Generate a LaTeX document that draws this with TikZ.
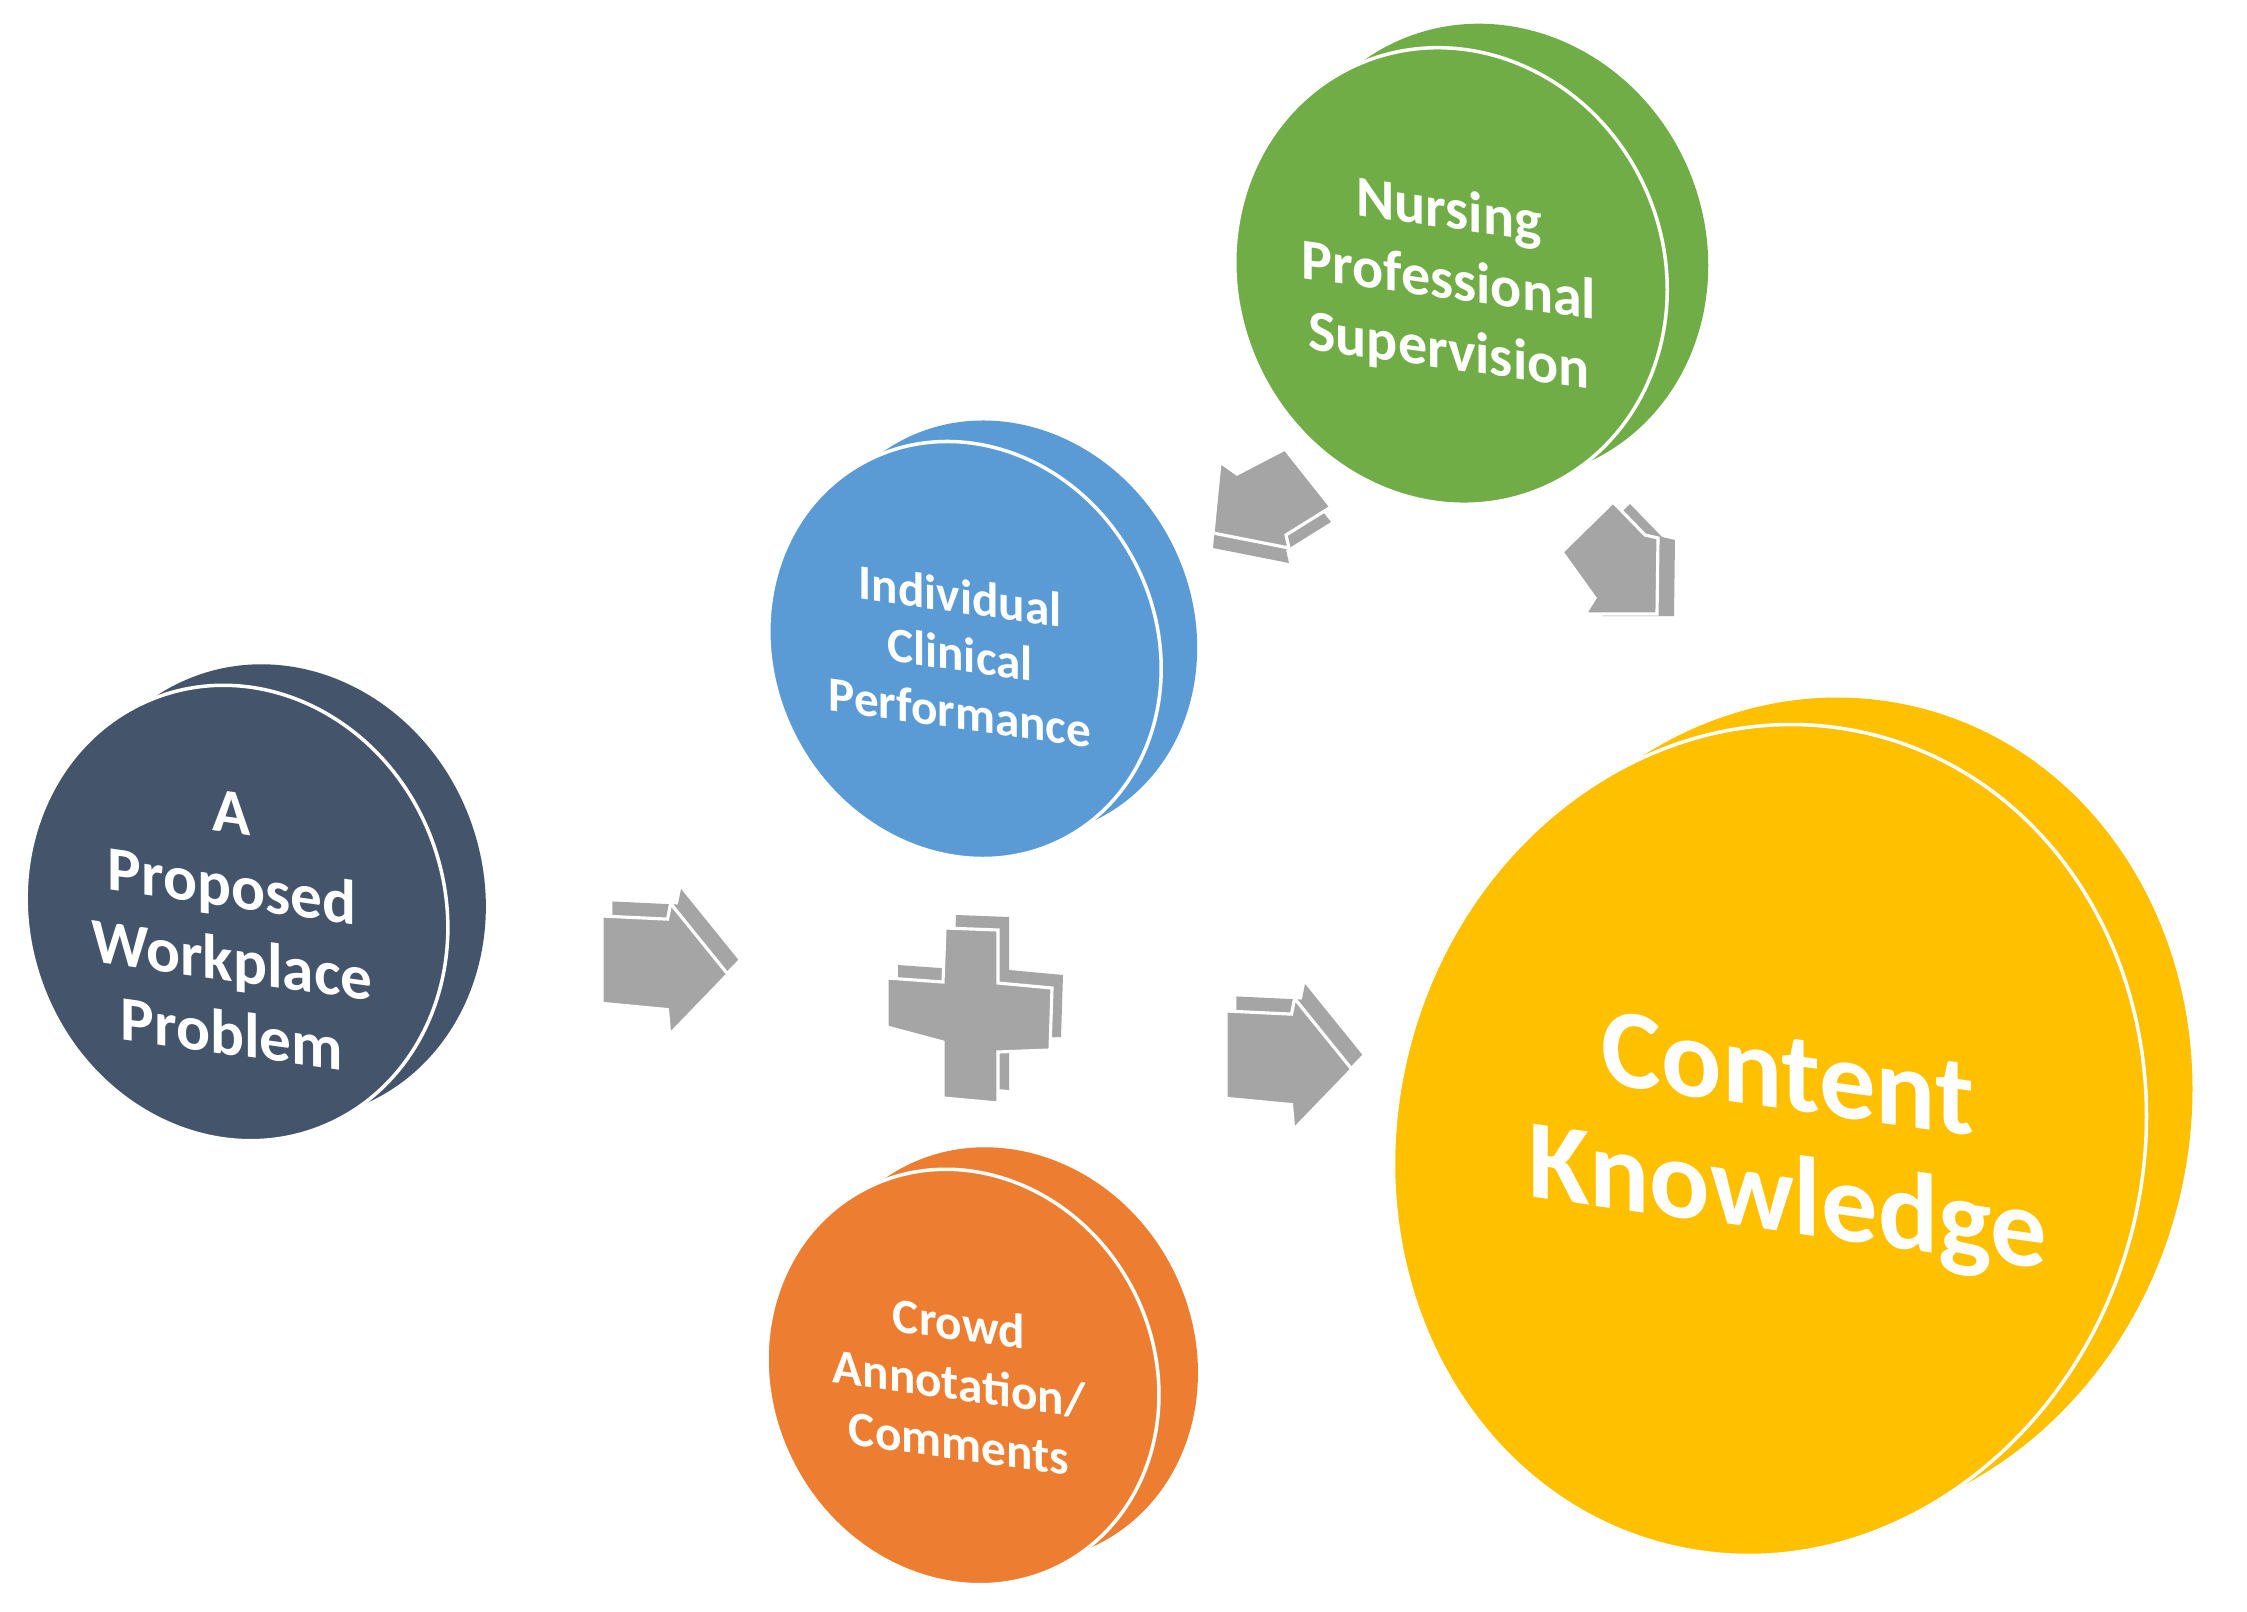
\documentclass[tikz,border=0pt]{standalone}
\usepackage{fontspec}
\setmainfont{Carlito}
\definecolor{cnavy}{HTML}{44546A}
\definecolor{cblue}{HTML}{5B9BD5}
\definecolor{cgreen}{HTML}{70AD47}
\definecolor{corange}{HTML}{ED7D31}
\definecolor{cyellow}{HTML}{FFC000}
\definecolor{cgray}{HTML}{A5A5A5}
% disc: #1 cx, #2 cy, #3 dx, #4 dy, #5 rotation, #6 x radius, #7 y radius, #8 colour
\newcommand\discpair[8]{%
  \fill[#8, rotate around={#5:(#1+#3,#2+#4)}] (#1+#3,#2+#4) ellipse [x radius=#6, y radius=#7];
  \fill[#8, draw=white, line width=1pt, rotate around={#5:(#1,#2)}] (#1,#2) ellipse [x radius=#6, y radius=#7];
}
% 3D block: #1 offset, #2 closed path
\newcommand\blockthree[2]{%
  \fill[cgray, shift={#1}] #2;
  \fill[cgray, draw=white, line width=0.9pt, line join=miter] #2;
}
\tikzset{
  disctext/.style={text=white, align=center, inner sep=0pt, yslant=-0.14},
}
\begin{document}
\begin{tikzpicture}[x=0.01cm,y=-0.01cm]
\useasboundingbox (0,0) rectangle (2247,1612);
\fill[white] (0,0) rectangle (2247,1612);

% discs
\discpair{237}{913}{38}{-21}{20}{2.08cm}{2.30cm}{cnavy}
\discpair{965}{650}{36}{-21}{28}{1.91cm}{2.13cm}{cblue}
\discpair{1451}{276}{41}{-24}{24}{2.13cm}{2.31cm}{cgreen}
\discpair{963}{1377}{39}{-22}{28}{1.91cm}{2.12cm}{corange}
\discpair{1770}{1140}{46}{-27}{-15}{3.73cm}{4.18cm}{cyellow}

% texts
\node[disctext, font=\bfseries\fontsize{18}{21}\selectfont] (problem) at (232,924) {A\\Proposed\\Workplace\\Problem};
\node[disctext, font=\bfseries\fontsize{14}{16.5}\selectfont] (clinical) at (960,654) {Individual\\Clinical\\Performance};
\node[disctext, font=\bfseries\fontsize{16.5}{20}\selectfont] (supervision) at (1449,283) {Nursing\\Professional\\Supervision};
\node[disctext, font=\bfseries\fontsize{14}{17}\selectfont] (crowd) at (959,1383) {Crowd\\Annotation/\\Comments};
\node[disctext, font=\bfseries\fontsize{32}{35}\selectfont] (knowledge) at (1788,1144) {Content\\Knowledge};

% right-pointing arrows
\begin{scope}[shift={(602,916)}, scale=1.04]
\blockthree{(10,-14)}{(0,0) -- (63,3) -- (66,-12) -- (121,56) -- (65,114) -- (63,90) -- (0,84) -- cycle}
\end{scope}
\begin{scope}[shift={(1226,1011)}, scale=1.04]
\blockthree{(10,-14)}{(0,0) -- (63,3) -- (66,-12) -- (121,56) -- (65,114) -- (63,90) -- (0,84) -- cycle}
\end{scope}

% plus sign
\blockthree{(11,-13)}{(945,928) -- (998,930) -- (998,983) -- (1052,988) -- (1050,1050) -- (998,1052) -- (998,1103) -- (943,1098) -- (943,1042) -- (887,1027) -- (887,978) -- (943,982) -- cycle}

% arrow from green to blue
\blockthree{(0,15)}{(1213,533) -- (1289,548) -- (1286,535) -- (1331,507) -- (1285,449) -- (1237,474) -- (1220,462) -- cycle}

% arrow from green to yellow
\blockthree{(17,2)}{(1562,552) -- (1613,502) -- (1645,535) -- (1658,538) -- (1657,614) -- (1585,614) -- (1595,598) -- cycle}
\end{tikzpicture}
\end{document}
